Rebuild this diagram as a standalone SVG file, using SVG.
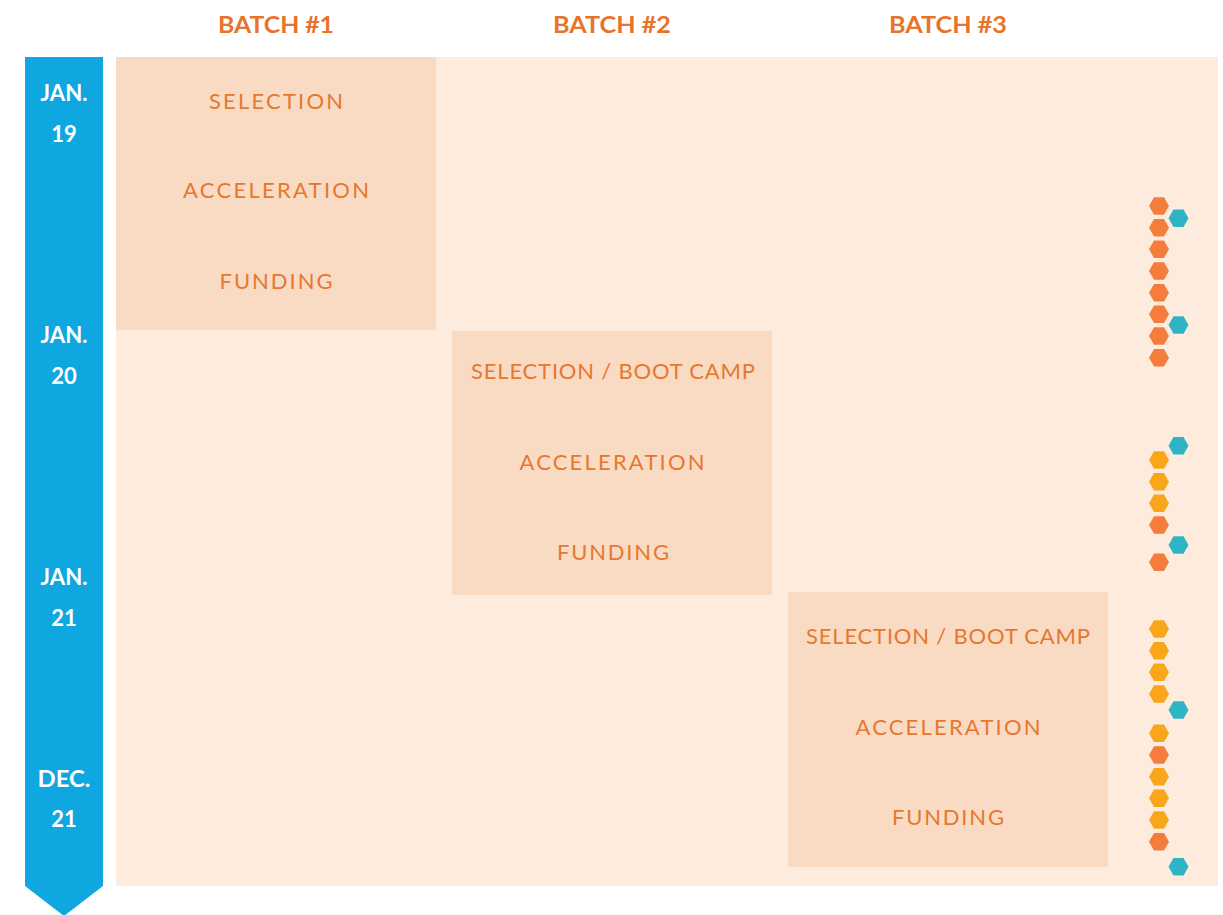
<svg xmlns="http://www.w3.org/2000/svg" xmlns:xlink="http://www.w3.org/1999/xlink" width="1223" height="915" viewBox="0 0 1223 915">
<style>
.hdr{font-family:Lato,"Open Sans","Liberation Sans",sans-serif;font-weight:700;font-size:22px;fill:#E8732A;text-anchor:middle}
.lbl{font-family:Lato,"Open Sans","Liberation Sans",sans-serif;font-weight:400;font-size:22px;fill:#E8772E;text-anchor:middle}
.date{font-family:Lato,"Open Sans","Liberation Sans",sans-serif;font-weight:700;font-size:22px;fill:#FFFFFF;text-anchor:middle}
.box{fill:#F9DBC4}
.o{fill:#F47D3D}
.y{fill:#F9A61B}
.t{fill:#2FB4C6}
</style>
<defs>
<polygon id="hex" points="-10,0 -5,-8.7 5,-8.7 10,0 5,8.7 -5,8.7"/>
</defs>
<rect width="1223" height="915" fill="#FFFFFF"/>
<g id="background">
<rect x="116" y="57" width="1102" height="829" fill="#FDECDE"/>
</g>
<g id="timeline">
<polygon points="25,57 103,57 103,886 64,916 25,886" fill="#0EA7DF"/>
<text class="date" x="64" y="101" textLength="47" lengthAdjust="spacingAndGlyphs">JAN.</text>
<text class="date" x="64" y="142">19</text>
<text class="date" x="64" y="343" textLength="47" lengthAdjust="spacingAndGlyphs">JAN.</text>
<text class="date" x="64" y="384">20</text>
<text class="date" x="64" y="585" textLength="47" lengthAdjust="spacingAndGlyphs">JAN.</text>
<text class="date" x="64" y="626">21</text>
<text class="date" x="64" y="787" textLength="53" lengthAdjust="spacingAndGlyphs">DEC.</text>
<text class="date" x="64" y="827">21</text>
</g>
<g id="headers">
<text class="hdr" x="276" y="33" textLength="116" lengthAdjust="spacingAndGlyphs">BATCH #1</text>
<text class="hdr" x="612" y="33" textLength="118" lengthAdjust="spacingAndGlyphs">BATCH #2</text>
<text class="hdr" x="948" y="33" textLength="118" lengthAdjust="spacingAndGlyphs">BATCH #3</text>
</g>
<g id="batch1">
<rect class="box" x="116" y="57" width="320" height="273"/>
<text class="lbl" x="276" y="109" textLength="134" lengthAdjust="spacing">SELECTION</text>
<text class="lbl" x="276" y="198" textLength="186" lengthAdjust="spacing">ACCELERATION</text>
<text class="lbl" x="276" y="289" textLength="113" lengthAdjust="spacing">FUNDING</text>
</g>
<g id="batch2">
<rect class="box" x="452" y="331" width="320" height="264"/>
<text class="lbl" x="613" y="379" textLength="284" lengthAdjust="spacing">SELECTION / BOOT CAMP</text>
<text class="lbl" x="612" y="470" textLength="185" lengthAdjust="spacing">ACCELERATION</text>
<text class="lbl" x="613" y="560" textLength="112" lengthAdjust="spacing">FUNDING</text>
</g>
<g id="batch3">
<rect class="box" x="788" y="592" width="320" height="275"/>
<text class="lbl" x="948" y="644" textLength="284" lengthAdjust="spacing">SELECTION / BOOT CAMP</text>
<text class="lbl" x="948" y="735" textLength="185" lengthAdjust="spacing">ACCELERATION</text>
<text class="lbl" x="948" y="825" textLength="112" lengthAdjust="spacing">FUNDING</text>
</g>
<g id="hexagons">
<use xlink:href="#hex" class="o" x="1159" y="206"/>
<use xlink:href="#hex" class="t" x="1178.5" y="218.3"/>
<use xlink:href="#hex" class="o" x="1159" y="227.7"/>
<use xlink:href="#hex" class="o" x="1159" y="249.3"/>
<use xlink:href="#hex" class="o" x="1159" y="271"/>
<use xlink:href="#hex" class="o" x="1159" y="292.7"/>
<use xlink:href="#hex" class="o" x="1159" y="314.3"/>
<use xlink:href="#hex" class="t" x="1178.5" y="325"/>
<use xlink:href="#hex" class="o" x="1159" y="336"/>
<use xlink:href="#hex" class="o" x="1159" y="357.7"/>
<use xlink:href="#hex" class="t" x="1178.5" y="445.7"/>
<use xlink:href="#hex" class="y" x="1159" y="460"/>
<use xlink:href="#hex" class="y" x="1159" y="481.7"/>
<use xlink:href="#hex" class="y" x="1159" y="503.3"/>
<use xlink:href="#hex" class="o" x="1159" y="525"/>
<use xlink:href="#hex" class="t" x="1178.5" y="545"/>
<use xlink:href="#hex" class="o" x="1159" y="562.3"/>
<use xlink:href="#hex" class="y" x="1159" y="629"/>
<use xlink:href="#hex" class="y" x="1159" y="650.7"/>
<use xlink:href="#hex" class="y" x="1159" y="672.3"/>
<use xlink:href="#hex" class="y" x="1159" y="694"/>
<use xlink:href="#hex" class="t" x="1178.5" y="710"/>
<use xlink:href="#hex" class="y" x="1159" y="733.3"/>
<use xlink:href="#hex" class="o" x="1159" y="755"/>
<use xlink:href="#hex" class="y" x="1159" y="776.7"/>
<use xlink:href="#hex" class="y" x="1159" y="798.3"/>
<use xlink:href="#hex" class="y" x="1159" y="820"/>
<use xlink:href="#hex" class="o" x="1159" y="841.7"/>
<use xlink:href="#hex" class="t" x="1178.5" y="866.7"/>
</g>
<g id="connectors"/>
</svg>
